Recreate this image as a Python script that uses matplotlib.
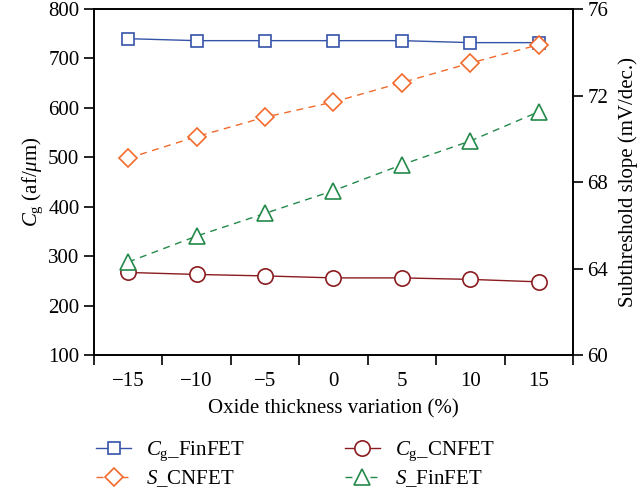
import matplotlib
matplotlib.use("Agg")
import matplotlib.pyplot as plt
import numpy as np

plt.rcParams['font.family'] = ['Liberation Serif', 'DejaVu Serif']
plt.rcParams['mathtext.fontset'] = 'custom'
plt.rcParams['mathtext.rm'] = 'Liberation Serif'
plt.rcParams['mathtext.it'] = 'Liberation Serif:italic'

# Dati
x = [-15, -10, -5, 0, 5, 10, 15]
cg_finfet = [740, 736, 736, 736, 736, 732, 732]
cg_cnfet = [267, 263, 260, 256, 256, 253, 248]
s_cnfet = [69.1, 70.1, 71.0, 71.7, 72.6, 73.5, 74.35]
s_finfet = [64.3, 65.5, 66.55, 67.6, 68.8, 69.9, 71.25]

blue = '#3553a8'
red = '#8a1c1f'
orange = '#f26a2c'
green = '#23894a'
fs = 15

fig = plt.figure(figsize=(6.42, 4.93), dpi=100)
ax = fig.add_axes([0.1464, 0.2799, 0.7461, 0.7018])
ax2 = ax.twinx()

l1, = ax.plot(x, cg_finfet, '-', color=blue, lw=1, marker='s', ms=9,
              mfc='white', mec=blue, mew=1.2)
l2, = ax.plot(x, cg_cnfet, '-', color=red, lw=1, marker='o', ms=11,
              mfc='white', mec=red, mew=1.2)
l3, = ax2.plot(x, s_cnfet, '--', color=orange, lw=1, marker='D', ms=9,
               mfc='white', mec=orange, mew=1.2, dashes=(5, 4))
l4, = ax2.plot(x, s_finfet, '--', color=green, lw=1, marker='^', ms=12,
               mfc='white', mec=green, mew=1.2, dashes=(5, 4))

ax.set_xlim(-17.5, 17.5)
ax.set_ylim(100, 800)
ax2.set_ylim(60, 76)
ax.set_xticks(x)
ax.set_xticklabels(['\u221215', '\u221210', '\u22125', '0', '5', '10', '15'])
ax.set_xticks(np.arange(-17.5, 18, 5), minor=True)
ax.tick_params(axis='x', which='major', length=0, pad=12, labelsize=fs)
ax.tick_params(axis='x', which='minor', length=7, width=1.2, direction='out')
ax.set_yticks(np.arange(100, 801, 100))
ax.tick_params(axis='y', length=7, width=1.2, labelsize=fs)
ax2.set_yticks([60, 64, 68, 72, 76])
ax2.tick_params(axis='y', length=7, width=1.2, labelsize=fs)

for a in (ax, ax2):
    for s in a.spines.values():
        s.set_linewidth(1.2)

ax.set_xlabel('Oxide thickness variation (%)', fontsize=fs, labelpad=6)
ax.set_ylabel(r'$C_{\mathrm{g}}$ (af/$\mu$m)', fontsize=fs, labelpad=2)
ax2.set_ylabel('Subthreshold slope (mV/dec.)', fontsize=fs, labelpad=7)

fig.legend([l1, l3, l2, l4],
           [r'$C_{\mathrm{g}}$_FinFET', r'$S$_CNFET', r'$C_{\mathrm{g}}$_CNFET', r'$S$_FinFET'],
           ncol=2, loc='upper left', bbox_to_anchor=(0.133, 0.13), frameon=False,
           fontsize=fs, handlelength=1.7, columnspacing=4.8, labelspacing=0.25,
           borderpad=0, handletextpad=0.7)

fig.savefig('out.png', dpi=100)
